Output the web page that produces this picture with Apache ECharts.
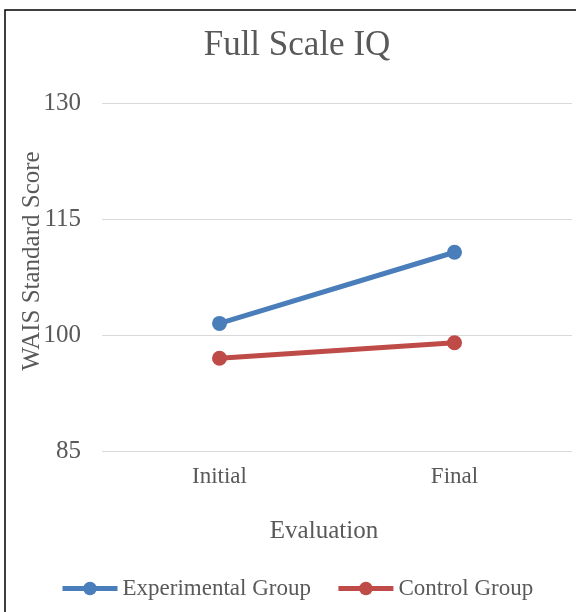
<!DOCTYPE html>
<html>
<head>
<meta charset="utf-8">
<script src="https://cdn.jsdelivr.net/npm/echarts@6/dist/echarts.min.js"></script>
<style>
  html, body { margin: 0; padding: 0; background: #fff; }
  #chart { width: 576px; height: 612px; }
</style>
</head>
<body>
<div id="chart"></div>
<script>
// Evaluation points on the x axis
const categories = ['Initial', 'Final'];
// Mean WAIS Full Scale IQ per group
const experimentalScores = [101.5, 110.7];
const controlScores = [97.0, 99.0];
// Value axis ticks
const yTicks = [85, 100, 115, 130];

const serif = '"Liberation Serif", "Times New Roman", serif';
const textGray = '#595959';

const chart = echarts.init(document.getElementById('chart'), null, { renderer: 'canvas' });

chart.setOption({
  backgroundColor: '#fff',
  animation: false,
  graphic: [{
    type: 'rect',
    shape: { x: 5, y: 10, width: 700, height: 700 },
    style: { fill: 'none', stroke: '#000', lineWidth: 1.5 },
    silent: true,
    z: 10
  }],
  title: {
    text: 'Full Scale IQ',
    left: 292,
    textAlign: 'center',
    top: 23,
    textStyle: { fontFamily: serif, fontSize: 35, fontWeight: 'normal', color: textGray }
  },
  legend: {
    left: 55,
    top: 572,
    itemWidth: 55,
    itemHeight: 17,
    itemGap: 25,
    lineStyle: { width: 5 },
    textStyle: { fontFamily: serif, fontSize: 23, color: textGray },
    data: ['Experimental Group', 'Control Group']
  },
  grid: { left: 102, right: 4, top: 103, bottom: 161 },
  xAxis: {
    type: 'category',
    data: categories,
    boundaryGap: true,
    axisLine: { show: false },
    axisTick: { show: false },
    axisLabel: { fontFamily: serif, fontSize: 23, color: textGray, margin: 14 },
    name: 'Evaluation',
    nameLocation: 'middle',
    nameGap: 68,
    nameTextStyle: { fontFamily: serif, fontSize: 25, color: textGray, padding: [0, 26, 0, 0] }
  },
  yAxis: {
    type: 'value',
    min: yTicks[0],
    max: yTicks[yTicks.length - 1],
    interval: yTicks[1] - yTicks[0],
    axisLine: { show: false },
    axisTick: { show: false },
    axisLabel: { fontFamily: serif, fontSize: 25, color: textGray, margin: 21 },
    splitLine: { lineStyle: { color: '#d9d9d9', width: 1 } },
    name: 'WAIS Standard Score',
    nameLocation: 'middle',
    nameMoveOverlap: false,
    nameGap: 57,
    nameTextStyle: { fontFamily: serif, fontSize: 25, color: textGray, padding: [0, 0, 0, 32] }
  },
  series: [
    {
      name: 'Experimental Group',
      type: 'line',
      data: experimentalScores,
      symbol: 'circle',
      symbolSize: 15,
      lineStyle: { width: 5, color: '#4a7ebb' },
      itemStyle: { color: '#4a7ebb' }
    },
    {
      name: 'Control Group',
      type: 'line',
      data: controlScores,
      symbol: 'circle',
      symbolSize: 15,
      lineStyle: { width: 5, color: '#be4b48' },
      itemStyle: { color: '#be4b48' }
    }
  ]
});
</script>
</body>
</html>
